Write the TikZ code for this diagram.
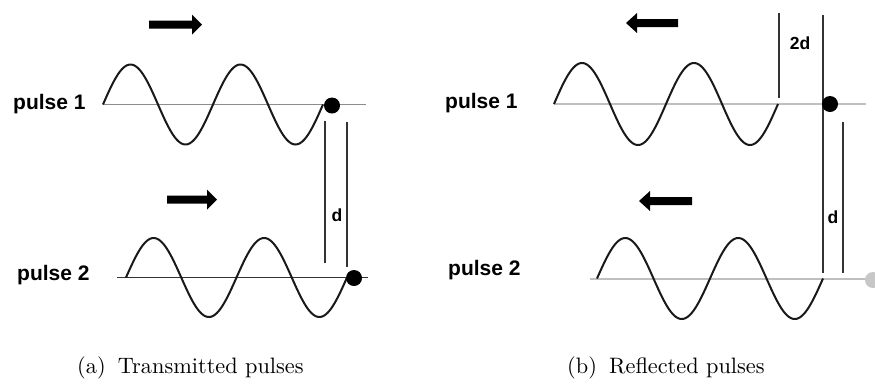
\documentclass[tikz,border=0pt]{standalone}
\usepackage{fontspec}
\newfontfamily\labfont{Liberation Sans}
\newfontfamily\capfont{lmroman10-regular}[Extension=.otf]
\tikzset{
  wave/.style={line width=2pt, black!90},
  axisA/.style={line width=1pt, black!45},
  axisB/.style={line width=1.2pt, black!80},
  axisC/.style={line width=1.2pt, black!25},
  vline/.style={line width=1.3pt, black!80},
  dotnode/.style={circle, fill=black, minimum size=16pt, inner sep=0pt},
  graydot/.style={circle, fill=black!22, minimum size=16pt, inner sep=0pt},
  pulselab/.style={font=\labfont\bfseries\fontsize{21}{24}\selectfont, inner sep=0pt},
  dlab/.style={font=\labfont\bfseries\fontsize{17.5}{20}\selectfont, inner sep=0pt},
  caplab/.style={font=\capfont\fontsize{22.3}{25}\selectfont, inner sep=0pt},
  blk/.style={fill=black}
}
% block arrow: body start, head base, tip, y
\newcommand{\myblockarrow}[4]{%
  \fill[blk] ({#1},{#4-4}) -- ({#2},{#4-4}) -- ({#2},{#4-10}) -- ({#3},{#4})
    -- ({#2},{#4+10}) -- ({#2},{#4+4}) -- ({#1},{#4+4}) -- cycle;}
\begin{document}
\begin{tikzpicture}[x=1pt,y=-1pt]
\useasboundingbox (0,0) rectangle (875,384);

% ===== (a) Transmitted pulses =====
\myblockarrow{149}{192}{202}{24.5}
\myblockarrow{167}{207}{217}{199.5}

\coordinate (a1s) at (103,104.5);
\coordinate (a1e) at (366,104.5);
\draw[axisA] (a1s) -- (a1e);
\draw[wave] plot[domain=0:220,samples=160] ({103+\x},{104.5-40*sin(\x/110*360)});

\coordinate (a2s) at (117,277.5);
\coordinate (a2e) at (368,277.5);
\draw[axisB] (a2s) -- (a2e);
\draw[wave] plot[domain=0:221,samples=160] ({126+\x},{277.5-39.5*sin(\x/110.5*360)});

\coordinate (av1t) at (325,121);
\coordinate (av1b) at (325,263);
\coordinate (av2t) at (347,122);
\coordinate (av2b) at (347,267);
\draw[vline] (av1t) -- (av1b);
\draw[vline] (av2t) -- (av2b);
\node[dlab] (ad) at (337,215) {d};

\node[dotnode] (adot1) at (332,105.5) {};
\node[dotnode] (adot2) at (354,278) {};

\node[pulselab, anchor=west] (ap1) at (13,104) {pulse 1};
\node[pulselab, anchor=west] (ap2) at (17,275) {pulse 2};

\node[caplab, anchor=west] (capa) at (77,368) {(a)\hspace{0.55em}Transmitted pulses};

% ===== (b) Reflected pulses =====
\myblockarrow{678}{637}{626}{23}
\myblockarrow{692}{650}{639}{201}

\coordinate (b1s) at (554,104);
\coordinate (b1e) at (866,104);
\draw[axisC] (b1s) -- (b1e);
\draw[wave] plot[domain=0:224,samples=160] ({554+\x},{104-41*sin(\x/112*360)});

\coordinate (b2s) at (590,279);
\coordinate (b2e) at (872,279);
\draw[axisC] (b2s) -- (b2e);
\draw[wave] plot[domain=0:226,samples=160] ({597+\x},{278.5-40.5*sin(\x/113*360)});

\coordinate (bv0t) at (779,13);
\coordinate (bv0b) at (779,98);
\coordinate (bv1t) at (823,15);
\coordinate (bv1b) at (823,273);
\coordinate (bv2t) at (843,122);
\coordinate (bv2b) at (843,273);
\draw[vline] (bv0t) -- (bv0b);
\draw[vline] (bv1t) -- (bv1b);
\draw[vline] (bv2t) -- (bv2b);
\node[dlab] (b2d) at (800,43) {2d};
\node[dlab] (bd) at (833,217) {d};

\node[dotnode] (bdot1) at (830,104) {};
\node[graydot] (bdot2) at (873,280) {};

\node[pulselab, anchor=west] (bp1) at (445,103) {pulse 1};
\node[pulselab, anchor=west] (bp2) at (448,270) {pulse 2};

\node[caplab, anchor=west] (capb) at (567,368) {(b)\hspace{0.55em}Reflected pulses};
\end{tikzpicture}
\end{document}
